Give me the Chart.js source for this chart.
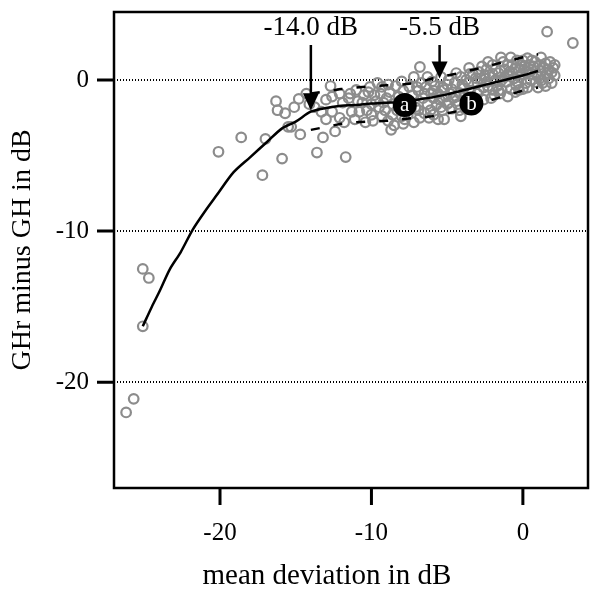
<!DOCTYPE html>
<html>
<head>
<meta charset="utf-8">
<script src="https://cdn.jsdelivr.net/npm/chart.js@4/dist/chart.umd.min.js"></script>
<style>
html,body{margin:0;padding:0;background:#fff;}
canvas{display:block;}
</style>
</head>
<body>
<canvas id="c" width="600" height="592"></canvas>
<script>
// ---- data ----
const xTicks = [-20, -10, 0];
const yTicks = [-20, -10, 0];
const xTitle = 'mean deviation in dB';
const yTitle = 'GHr minus GH in dB';

const mdX = [
-26.2,-25.7,-25.1,-24.7,-25.1,-20.1,-18.6,-17.0,-17.2,-15.9,-15.5,-16.3,-16.2,-15.7,-15.1,-14.8,-15.3,-14.7,-13.6,-11.7,
-13.2,-12.4,-12.7,-14.3,-13.0,-12.1,-11.1,-10.8,-12.6,-12.1,-11.4,-11.0,-10.5,-11.3,-11.9,-12.6,-13.3,-13.75,-14.1,-13.0,
-6.8,-10.1,-9.3,-9.8,-10.3,-9.5,-9.3,-10.0,-8.7,-8.5,-8.0,-7.5,-7.2,-7.0,-6.4,-7.6,-6.8,-6.2,-5.9,-5.2,
-6.05,-5.2,-4.4,-4.5,-4.9,-5.4,-4.2,-4.1,-5.7,-9.0,-8.8,-8.6,-8.3,-8.2,-7.9,-7.7,-7.3,-7.1,-6.9,-6.6,
-6.5,-6.3,-6.1,-5.9,-5.8,-5.6,-5.5,-5.3,-5.1,-5.0,-4.8,-4.7,-4.6,-4.3,-4.0,-3.9,-3.8,-9.7,-9.9,-10.6,
-10.2,-9.6,-9.1,-8.9,-8.4,-7.8,-7.4,-6.7,-6.0,-5.4,-4.9,
1.6,3.3,-1.45,-0.8,-0.4,0.3,1.2,1.8,1.9,1.6,1.25,0.85,0.2,-0.46,-1.1,-1.8,-2.4,-3.1,-3.55,-2.9,
-2.2,-1.6,-0.9,-0.26,0.4,-0.7,-0.07,-2.0,-3.75,-3.9,-1.4,-2.0,-2.9,-0.26,-3.4,-3.0,-2.6,-2.3,-1.9,-1.5,
-1.2,-1.0,-0.6,-0.2,0.1,0.5,0.7,0.9,1.1,1.4,1.5,1.7,2.0,2.1,-2.7,-3.3,-1.3,0.6,-0.5,0.3,
1.0,-3.6,-2.5,-1.7,
-11.5,-11.8,-10.9,-10.4,-10.0,-9.4,-9.2,-8.9,-8.6,-8.1,-7.9,-7.5,-7.2,-6.9,-6.5,-6.3,-5.9,-5.6,-5.3,-5.0,
-4.7,-4.4,-4.2,-3.7,-3.5,-3.2,-3.0,-2.8,-2.6,-2.4,-2.1,-2.0,-1.8,-1.6,-1.4,-1.2,-1.0,-0.8,-0.7,-0.5,
-0.3,-0.1,0.0,0.2,0.4,0.6,0.8,1.0,1.2,1.3,1.5,1.7,1.9,2.1,0.0,-1.0,-2.3,-3.5,-4.1,-8.0
];
const diffY = [
-22.0,-21.1,-12.5,-13.1,-16.3,-4.75,-3.8,-3.9,-6.3,-5.2,-3.1,-1.4,-2.0,-2.2,-1.8,-1.25,-3.1,-3.6,-4.8,-5.1,
-3.8,-3.4,-0.4,-0.9,-2.6,-2.5,-2.6,-2.1,-1.1,-0.9,-0.9,-0.66,-1.0,-2.1,-1.5,-2.1,-2.1,-1.8,-1.6,-1.3,
0.86,-0.46,-0.46,-1.0,-2.0,-1.8,-2.4,-2.3,-3.3,-3.0,-0.1,-0.46,0.2,-0.46,-0.46,-2.3,-2.5,-2.5,-2.3,-2.6,
-0.86,-0.66,0.46,-0.2,-1.5,-1.8,-0.86,-2.4,-1.65,-1.2,-0.8,-1.6,-2.0,-1.1,-0.7,-1.3,-1.0,-1.8,-2.0,-1.2,
-0.9,-1.6,-2.0,-1.2,-0.4,-0.9,-1.3,-2.0,-1.1,-0.3,-0.9,-1.9,-1.2,-1.6,-0.3,-1.1,-1.9,-1.4,-2.7,-1.5,
-0.8,-0.2,-2.0,-2.7,-0.4,-2.6,-1.9,-0.2,-0.1,0.2,0.0,
3.2,2.45,1.5,1.5,1.3,1.45,1.5,1.2,-0.2,0.46,0.0,-0.13,-0.2,-0.33,-0.13,0.0,-0.13,0.13,0.8,0.53,
0.33,0.46,0.53,0.66,0.53,1.0,1.0,1.0,0.0,-0.53,-0.66,-0.66,-0.66,-0.66,-1.2,-0.9,-1.3,-0.4,-1.0,-0.9,
0.2,-1.1,0.1,0.2,0.9,0.0,0.9,0.4,1.0,0.8,-0.4,0.1,0.8,0.3,0.9,0.4,1.2,1.3,-0.8,-0.5,
-0.5,-0.2,0.3,-0.4,
-1.2,-2.8,-1.4,-2.8,-1.6,-0.9,-1.5,-0.3,-2.3,-1.9,-2.9,-1.5,-2.8,-0.7,-2.2,0.2,-0.7,-2.6,-0.5,-1.6,
-0.6,-1.1,-2.0,-1.5,-0.7,-1.7,-0.2,0.1,-0.5,0.7,-1.2,0.4,0.7,-0.7,0.0,0.7,0.3,-0.6,0.5,0.8,
-0.2,0.4,-0.6,0.6,1.0,0.4,1.2,0.2,0.6,-0.2,1.1,0.7,0.5,1.0,1.3,1.0,1.2,0.4,0.2,-2.4
];

const fitX = [-25.1,-24.5,-24,-23.3,-22.6,-21.8,-21,-20.2,-19.1,-18,-16.9,-15.9,-15,-14,-13,-12,-11,-10,-9,-8,-7,-6,-5,-4,-3,-2,-1,0,1];
const fitY = [-16.3,-15.0,-14.0,-12.5,-11.4,-9.9,-8.7,-7.6,-6.1,-5.1,-4.1,-3.2,-2.75,-2.1,-1.85,-1.7,-1.65,-1.55,-1.5,-1.45,-1.3,-1.15,-0.95,-0.7,-0.45,-0.2,0.05,0.3,0.6];

const boundX = [-14,-13,-12,-11,-10,-9,-8,-7,-6,-5,-4,-3,-2,-1,0,1];
const upperY = [-0.9,-0.75,-0.6,-0.5,-0.4,-0.35,-0.3,-0.2,0.1,0.3,0.5,0.75,1.0,1.25,1.5,1.7];
const lowerY = [-3.3,-3.1,-2.9,-2.8,-2.75,-2.7,-2.6,-2.5,-2.4,-2.2,-2.0,-1.6,-1.3,-1.0,-0.7,-0.5];

const markerLabels = ['a', 'b'];
const markerX = [-7.8, -3.4];
const markerY = [-1.65, -1.55];

const arrowX = [-14.0, -5.5];
const arrowTipY = [-2.0, 0.1];

// ---- helpers ----
const pts = (xs, ys) => xs.map((x, i) => ({x: x, y: ys[i]}));
const serif = '"Liberation Serif", "Times New Roman", serif';

const framePlugin = {
  id: 'frame',
  afterDraw(chart) {
    const {ctx, chartArea: a, scales: {x, y}} = chart;
    ctx.save();
    ctx.strokeStyle = '#000';
    ctx.lineWidth = 2.5;
    ctx.strokeRect(a.left, a.top, a.right - a.left, a.bottom - a.top);
    // outward tick marks
    ctx.lineWidth = 3;
    ctx.beginPath();
    x.ticks.forEach(t => {
      const px = x.getPixelForValue(t.value);
      ctx.moveTo(px, a.bottom);
      ctx.lineTo(px, a.bottom + 17);
    });
    y.ticks.forEach(t => {
      const py = y.getPixelForValue(t.value);
      ctx.moveTo(a.left - 17, py);
      ctx.lineTo(a.left, py);
    });
    ctx.stroke();
    // x-axis title
    ctx.fillStyle = '#000';
    ctx.font = '29px ' + serif;
    ctx.textAlign = 'center';
    ctx.textBaseline = 'middle';
    ctx.fillText(xTitle, 327, 576);
    ctx.restore();
  }
};

const annotPlugin = {
  id: 'annot',
  afterDatasetsDraw(chart) {
    const {ctx, scales: {x, y}} = chart;
    ctx.save();
    const meta = chart.getDatasetMeta(0);
    ctx.fillStyle = '#fff';
    ctx.font = '21px ' + serif;
    ctx.textAlign = 'center';
    ctx.textBaseline = 'middle';
    meta.data.forEach((el, i) => {
      ctx.fillText(markerLabels[i], el.x, el.y + 1);
    });
    ctx.fillStyle = '#000';
    ctx.strokeStyle = '#000';
    ctx.lineWidth = 2.5;
    ctx.font = '27px ' + serif;
    arrowX.forEach((v, i) => {
      const px = x.getPixelForValue(v);
      const tip = y.getPixelForValue(arrowTipY[i]);
      const top = 45;
      ctx.beginPath();
      ctx.moveTo(px, top);
      ctx.lineTo(px, tip - 10);
      ctx.stroke();
      ctx.beginPath();
      ctx.moveTo(px, tip);
      ctx.lineTo(px - 8, tip - 17);
      ctx.lineTo(px + 8, tip - 17);
      ctx.closePath();
      ctx.fill();
      ctx.fillText(v.toFixed(1) + ' dB', px, 28);
    });
    ctx.restore();
  }
};

new Chart(document.getElementById('c'), {
  type: 'scatter',
  data: {
    datasets: [
      {
        data: pts(markerX, markerY),
        pointRadius: 12,
        pointBackgroundColor: '#000',
        pointBorderColor: '#000',
        pointBorderWidth: 0,
        showLine: false
      },
      {
        data: pts(fitX, fitY),
        showLine: true,
        borderColor: '#000',
        borderWidth: 2.5,
        pointRadius: 0,
        tension: 0.3,
        fill: false
      },
      {
        data: pts(boundX, upperY),
        showLine: true,
        borderColor: '#000',
        borderWidth: 2.5,
        borderDash: [9, 14],
        pointRadius: 0,
        fill: false
      },
      {
        data: pts(boundX, lowerY),
        showLine: true,
        borderColor: '#000',
        borderWidth: 2.5,
        borderDash: [9, 14],
        pointRadius: 0,
        fill: false
      },
      {
        data: pts(mdX, diffY),
        showLine: false,
        pointRadius: 4.8,
        pointBorderWidth: 2.2,
        pointBorderColor: '#8c8c8c',
        pointBackgroundColor: 'rgba(0,0,0,0)'
      }
    ]
  },
  options: {
    responsive: false,
    animation: false,
    events: [],
    layout: {padding: {left: 0, right: 10, top: 12, bottom: 0}},
    plugins: {legend: {display: false}, tooltip: {enabled: false}},
    scales: {
      x: {
        type: 'linear',
        min: -27,
        max: 4.3,
        afterBuildTicks: s => { s.ticks = xTicks.map(v => ({value: v})); },
        afterFit: s => { s.height = 104; s.paddingLeft = 0; s.paddingRight = 0; },
        grid: {display: false},
        border: {display: false},
        ticks: {color: '#000', font: {family: serif, size: 25}, padding: 22, maxRotation: 0, callback: v => String(v)},
        title: {display: false}
      },
      y: {
        type: 'linear',
        min: -27,
        max: 4.5,
        afterBuildTicks: s => { s.ticks = yTicks.map(v => ({value: v})); },
        afterFit: s => { s.width = 114; s.paddingTop = 0; s.paddingBottom = 0; },
        grid: {drawOnChartArea: true, drawTicks: false, color: '#000', lineWidth: 2},
        border: {display: false, dash: [1, 2]},
        ticks: {color: '#000', font: {family: serif, size: 25}, padding: 25, callback: v => String(v)},
        title: {display: true, text: yTitle, color: '#000', font: {family: serif, size: 28}, padding: {top: 6, bottom: 0}}
      }
    }
  },
  plugins: [framePlugin, annotPlugin]
});
</script>
</body>
</html>
